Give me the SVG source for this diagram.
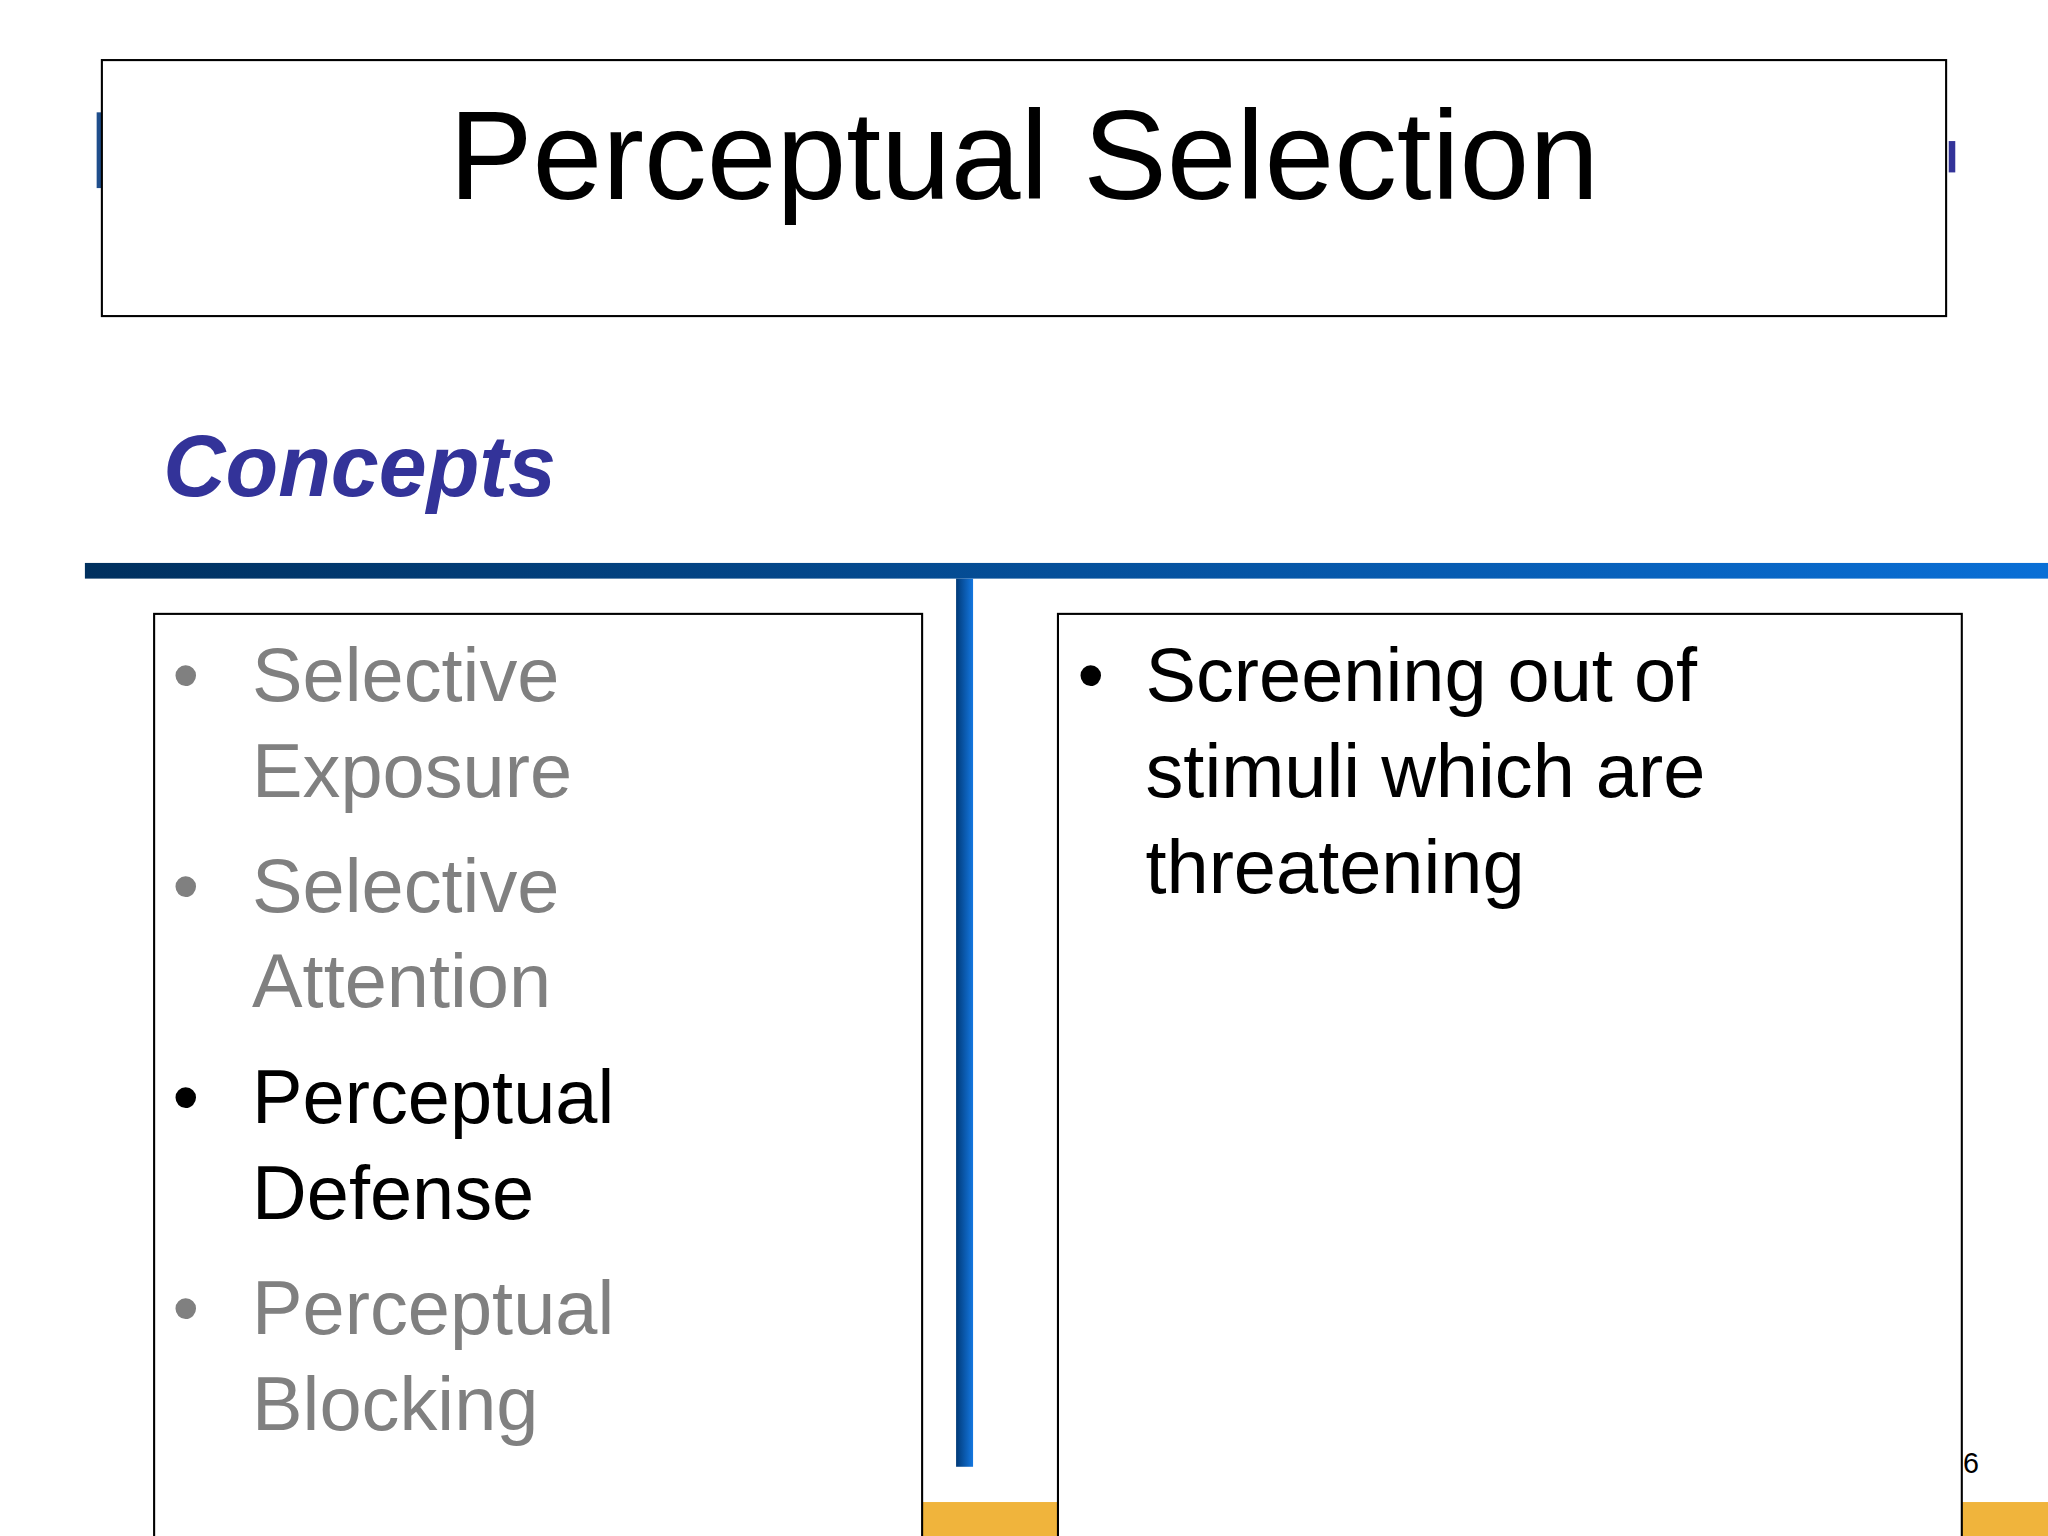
<svg xmlns="http://www.w3.org/2000/svg" width="2048" height="1536" viewBox="0 0 2048 1536">
<defs>
<linearGradient id="hbar" x1="0" y1="0" x2="1" y2="0"><stop offset="0" stop-color="#00305e"/><stop offset="1" stop-color="#0a6fd6"/></linearGradient>
<linearGradient id="vbar" x1="0" y1="0" x2="1" y2="0"><stop offset="0" stop-color="#003a78"/><stop offset="1" stop-color="#1477e0"/></linearGradient>
</defs>
<style>
.t{font-family:"Liberation Sans",Arial,sans-serif;}
.box{fill:#fff;stroke:#000;stroke-width:1.6;}
.g{fill:#808080;}
.k{fill:#000;}
.b{font-size:58px;}
</style>
<rect width="2048" height="1536" fill="#fff"/>
<g transform="scale(1.306122)">
<g id="decor">
<rect x="74" y="86" width="4" height="58" fill="#1f4e8c"/>
<rect x="1492" y="108" width="5" height="24" fill="#333399"/>
<rect x="65" y="431" width="1503" height="12" fill="url(#hbar)"/>
<rect x="732" y="443" width="13" height="680" fill="url(#vbar)"/>
<rect x="706" y="1150" width="104" height="26" fill="#f0b43c"/>
<rect x="1502" y="1150" width="66" height="26" fill="#f0b43c"/>
</g>
<g id="title">
<rect class="box" x="78" y="46" width="1412" height="196"/>
<text class="t" x="784" y="152" font-size="96" text-anchor="middle" fill="#000">Perceptual Selection</text>
</g>
<text class="t" x="125" y="380" font-size="66" font-weight="bold" font-style="italic" fill="#333399">Concepts</text>
<g id="left">
<rect class="box" x="118" y="470" width="588" height="720"/>
<g class="t b">
<text class="g" x="132" y="537">•</text>
<text class="g" x="193" y="537">Selective</text>
<text class="g" x="193" y="610">Exposure</text>
<text class="g" x="132" y="698">•</text>
<text class="g" x="193" y="698">Selective</text>
<text class="g" x="193" y="771">Attention</text>
<text class="k" x="132" y="860">•</text>
<text class="k" x="193" y="860">Perceptual</text>
<text class="k" x="193" y="933">Defense</text>
<text class="g" x="132" y="1021">•</text>
<text class="g" x="193" y="1021">Perceptual</text>
<text class="g" x="193" y="1095">Blocking</text>
</g>
</g>
<g id="right">
<rect class="box" x="810" y="470" width="692" height="720"/>
<g class="t b">
<text class="k" x="825" y="537">•</text>
<text class="k" x="877" y="537">Screening out of</text>
<text class="k" x="877" y="610">stimuli which are</text>
<text class="k" x="877" y="684">threatening</text>
</g>
</g>
<text class="t" x="1503" y="1128" font-size="22" fill="#000">6</text>
</g>
</svg>
